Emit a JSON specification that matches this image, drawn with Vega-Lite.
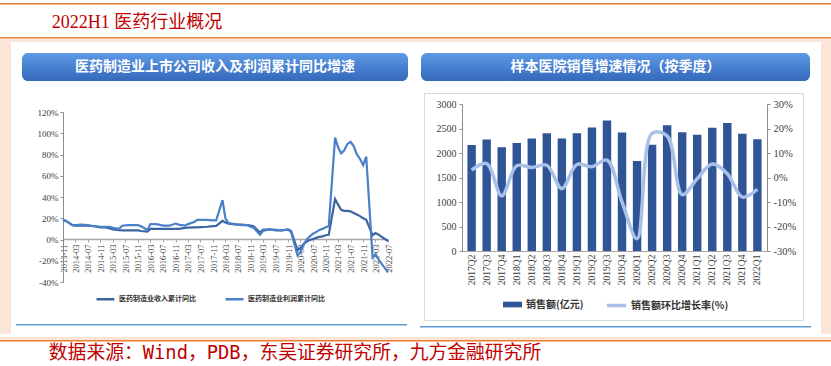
{
  "$schema": "https://vega.github.io/schema/vega-lite/v6.json",
  "padding": 0,
  "background": "white",
  "config": {"view": {"stroke": null}, "concat": {"spacing": 0}, "axis": {"grid": false}},
  "spacing": 0,
  "vconcat": [
    {"width": 831, "height": 3, "data": {"values": [{}]}, "mark": {"type": "text", "fontSize": 0}, "encoding": {"text": {"value": ""}}},
    {"width": 831, "height": 1.5, "data": {"values": [{}]}, "mark": {"type": "text", "fontSize": 0}, "encoding": {"text": {"value": ""}}, "view": {"fill": "#ED7D31"}},
    {"spacing": 0, "hconcat": [
      {"width": 37, "height": 32, "data": {"values": [{}]}, "mark": {"type": "text", "fontSize": 0}, "encoding": {"text": {"value": ""}}},
      {"width": 200, "height": 32, "data": {"values": [{"t": "2022H1 医药行业概况"}]}, "mark": {"type": "text", "font": "Liberation Serif, Noto Sans CJK SC", "fontSize": 18, "color": "#C00000", "dy": 2}, "encoding": {"text": {"field": "t"}}},
      {"width": 594, "height": 32, "data": {"values": [{}]}, "mark": {"type": "text", "fontSize": 0}, "encoding": {"text": {"value": ""}}}
    ]},
    {"width": 831, "height": 1.5, "data": {"values": [{}]}, "mark": {"type": "text", "fontSize": 0}, "encoding": {"text": {"value": ""}}, "view": {"fill": "#ED7D31"}},
    {"width": 831, "height": 3, "data": {"values": [{}]}, "mark": {"type": "text", "fontSize": 0}, "encoding": {"text": {"value": ""}}, "view": {"fill": "#FBE5D6"}},
    {"spacing": 0, "hconcat": [
      {"width": 11, "height": 292, "data": {"values": [{}]}, "mark": {"type": "text", "fontSize": 0}, "encoding": {"text": {"value": ""}}, "view": {"fill": "#FBE5D6"}},
      {"spacing": 0, "vconcat": [
        {"width": 404, "height": 11, "data": {"values": [{}]}, "mark": {"type": "text", "fontSize": 0}, "encoding": {"text": {"value": ""}}},
        {"spacing": 0, "hconcat": [
          {"width": 11, "height": 28, "data": {"values": [{}]}, "mark": {"type": "text", "fontSize": 0}, "encoding": {"text": {"value": ""}}},
          {"width": 386, "height": 28, "view": {"cornerRadius": 6, "fill": {"gradient": "linear", "x1": 0, "y1": 0, "x2": 0, "y2": 1, "stops": [{"offset": 0, "color": "#5E9AE6"}, {"offset": 1, "color": "#3468BC"}]}}, "data": {"values": [{"t": "医药制造业上市公司收入及利润累计同比增速"}]}, "mark": {"type": "text", "font": "Noto Sans CJK SC", "fontSize": 14, "fontWeight": "bold", "color": "white"}, "encoding": {"text": {"field": "t"}}},
          {"width": 7, "height": 28, "data": {"values": [{}]}, "mark": {"type": "text", "fontSize": 0}, "encoding": {"text": {"value": ""}}}
        ]},
        {
          "width": 404, "height": 243,
          "data": {"values": [
            {"d": "2013-11", "rev": 18.5, "profit": 18.5},
            {"d": "2013-12", "rev": 17.5, "profit": 17.5},
            {"d": "2014-02", "rev": 13.5, "profit": 13.5},
            {"d": "2014-03", "rev": 13, "profit": 13.5},
            {"d": "2014-05", "rev": 13.2, "profit": 14},
            {"d": "2014-07", "rev": 13, "profit": 13.5},
            {"d": "2014-09", "rev": 12.5, "profit": 12.5},
            {"d": "2014-11", "rev": 11.5, "profit": 12},
            {"d": "2014-12", "rev": 11.5, "profit": 12},
            {"d": "2015-02", "rev": 10.5, "profit": 12},
            {"d": "2015-03", "rev": 9.5, "profit": 11},
            {"d": "2015-05", "rev": 8.8, "profit": 10},
            {"d": "2015-06", "rev": 8.6, "profit": 13},
            {"d": "2015-08", "rev": 8.5, "profit": 13.5},
            {"d": "2015-11", "rev": 8.5, "profit": 13.5},
            {"d": "2015-12", "rev": 8, "profit": 12.5},
            {"d": "2016-02", "rev": 7.5, "profit": 9},
            {"d": "2016-03", "rev": 10, "profit": 14.5},
            {"d": "2016-05", "rev": 10, "profit": 14.5},
            {"d": "2016-07", "rev": 10, "profit": 13},
            {"d": "2016-09", "rev": 10, "profit": 13},
            {"d": "2016-11", "rev": 10, "profit": 15},
            {"d": "2016-12", "rev": 10, "profit": 14},
            {"d": "2017-02", "rev": 11, "profit": 13},
            {"d": "2017-03", "rev": 11.2, "profit": 14.5},
            {"d": "2017-05", "rev": 11.5, "profit": 16.5},
            {"d": "2017-06", "rev": 11.5, "profit": 18.5},
            {"d": "2017-09", "rev": 12, "profit": 18.5},
            {"d": "2017-11", "rev": 12.5, "profit": 18},
            {"d": "2017-12", "rev": 12.8, "profit": 18},
            {"d": "2018-02", "rev": 17.5, "profit": 37},
            {"d": "2018-03", "rev": 16, "profit": 20},
            {"d": "2018-04", "rev": 15, "profit": 15.5},
            {"d": "2018-06", "rev": 14.3, "profit": 14.5},
            {"d": "2018-08", "rev": 14, "profit": 13.5},
            {"d": "2018-10", "rev": 13.5, "profit": 13.5},
            {"d": "2018-11", "rev": 13, "profit": 12},
            {"d": "2018-12", "rev": 12.5, "profit": 11},
            {"d": "2019-02", "rev": 6.5, "profit": 4.5},
            {"d": "2019-03", "rev": 9, "profit": 8},
            {"d": "2019-05", "rev": 9.5, "profit": 9.5},
            {"d": "2019-07", "rev": 9, "profit": 8.5},
            {"d": "2019-09", "rev": 8.5, "profit": 8.5},
            {"d": "2019-11", "rev": 9.5, "profit": 9.5},
            {"d": "2019-12", "rev": 8, "profit": 7},
            {"d": "2020-02", "rev": -10, "profit": -15},
            {"d": "2020-03", "rev": -8, "profit": -12},
            {"d": "2020-04", "rev": -4, "profit": -5},
            {"d": "2020-05", "rev": -2, "profit": 0},
            {"d": "2020-06", "rev": -0.5, "profit": 3},
            {"d": "2020-07", "rev": 0.5, "profit": 5.5},
            {"d": "2020-08", "rev": 1.5, "profit": 7},
            {"d": "2020-09", "rev": 2.5, "profit": 9},
            {"d": "2020-10", "rev": 3, "profit": 10},
            {"d": "2020-11", "rev": 4, "profit": 11.5},
            {"d": "2020-12", "rev": 4.5, "profit": 12.5},
            {"d": "2021-02", "rev": 38, "profit": 96},
            {"d": "2021-03", "rev": 33, "profit": 87},
            {"d": "2021-04", "rev": 28, "profit": 81},
            {"d": "2021-05", "rev": 27, "profit": 84},
            {"d": "2021-06", "rev": 27, "profit": 90},
            {"d": "2021-07", "rev": 26.5, "profit": 92},
            {"d": "2021-08", "rev": 25, "profit": 88},
            {"d": "2021-09", "rev": 23.5, "profit": 80},
            {"d": "2021-10", "rev": 22, "profit": 76},
            {"d": "2021-11", "rev": 20, "profit": 70},
            {"d": "2021-12", "rev": 18.5, "profit": 78},
            {"d": "2022-02", "rev": 4, "profit": -17},
            {"d": "2022-03", "rev": 6, "profit": -14},
            {"d": "2022-04", "rev": 4.5, "profit": -19},
            {"d": "2022-05", "rev": 2.5, "profit": -23},
            {"d": "2022-06", "rev": 0.5, "profit": -27},
            {"d": "2022-07", "rev": -1.5, "profit": -31}
          ]},
          "transform": [{"fold": ["rev", "profit"], "as": ["series", "value"]}],
          "mark": {"type": "line", "strokeWidth": 2.2},
          "encoding": {
            "x": {"field": "d", "type": "temporal",
              "scale": {"type": "utc", "range": [52, 377], "domain": [{"year": 2013, "month": 11, "date": 1, "utc": true}, {"year": 2022, "month": 7, "date": 1, "utc": true}]},
              "axis": {"title": null, "orient": "bottom", "offset": -85, "labelExpr": "utcFormat(datum.value, '%Y-%m')", "labelAngle": 270, "labelOverlap": false, "labelFlush": false,
                "labelFont": "Liberation Serif", "labelFontSize": 8.5, "labelColor": "#404040", "labelPadding": 2,
                "domainColor": "#A6A6A6", "domainWidth": 1.5, "tickColor": "#A6A6A6", "tickSize": 3,
                "values": [
                  {"year": 2013, "month": 11, "date": 1, "utc": true}, {"year": 2014, "month": 3, "date": 1, "utc": true}, {"year": 2014, "month": 7, "date": 1, "utc": true},
                  {"year": 2014, "month": 11, "date": 1, "utc": true}, {"year": 2015, "month": 3, "date": 1, "utc": true}, {"year": 2015, "month": 7, "date": 1, "utc": true},
                  {"year": 2015, "month": 11, "date": 1, "utc": true}, {"year": 2016, "month": 3, "date": 1, "utc": true}, {"year": 2016, "month": 7, "date": 1, "utc": true},
                  {"year": 2016, "month": 11, "date": 1, "utc": true}, {"year": 2017, "month": 3, "date": 1, "utc": true}, {"year": 2017, "month": 7, "date": 1, "utc": true},
                  {"year": 2017, "month": 11, "date": 1, "utc": true}, {"year": 2018, "month": 3, "date": 1, "utc": true}, {"year": 2018, "month": 7, "date": 1, "utc": true},
                  {"year": 2018, "month": 11, "date": 1, "utc": true}, {"year": 2019, "month": 3, "date": 1, "utc": true}, {"year": 2019, "month": 7, "date": 1, "utc": true},
                  {"year": 2019, "month": 11, "date": 1, "utc": true}, {"year": 2020, "month": 3, "date": 1, "utc": true}, {"year": 2020, "month": 7, "date": 1, "utc": true},
                  {"year": 2020, "month": 11, "date": 1, "utc": true}, {"year": 2021, "month": 3, "date": 1, "utc": true}, {"year": 2021, "month": 7, "date": 1, "utc": true},
                  {"year": 2021, "month": 11, "date": 1, "utc": true}, {"year": 2022, "month": 3, "date": 1, "utc": true}, {"year": 2022, "month": 7, "date": 1, "utc": true}
                ]}},
            "y": {"field": "value", "type": "quantitative",
              "scale": {"domain": [-40, 120], "nice": false, "zero": false, "range": [201, 31]},
              "axis": {"title": null, "orient": "left", "offset": -52, "values": [-40, -20, 0, 20, 40, 60, 80, 100, 120], "labelExpr": "datum.value + '%'",
                "labelFont": "Liberation Serif", "labelFontSize": 9, "labelColor": "#404040", "labelPadding": 2,
                "domainColor": "#8C8C8C", "tickColor": "#8C8C8C", "tickSize": 3}},
            "stroke": {"field": "series", "type": "nominal",
              "scale": {"domain": ["rev", "profit"], "range": ["#3C64A0", "#4A80C8"]},
              "legend": {"title": null, "orient": "none", "legendX": 95, "legendY": 288.5, "columns": 2, "columnPadding": 24,
                "symbolType": "stroke", "symbolSize": 324, "symbolStrokeWidth": 2.5, "padding": 0,
                "labelExpr": "datum.value == 'rev' ? '医药制造业收入累计同比' : '医药制造业利润累计同比'",
                "labelFont": "Noto Sans CJK SC", "labelFontSize": 7, "labelFontWeight": "bold", "labelColor": "#333333", "labelOffset": 3}}
          }
        },
        {"spacing": 0, "hconcat": [
          {"width": 5, "height": 1.5, "data": {"values": [{}]}, "mark": {"type": "text", "fontSize": 0}, "encoding": {"text": {"value": ""}}},
          {"width": 391, "height": 1.5, "data": {"values": [{}]}, "mark": {"type": "text", "fontSize": 0}, "encoding": {"text": {"value": ""}}, "view": {"fill": "#5B9BD5"}},
          {"width": 8, "height": 1.5, "data": {"values": [{}]}, "mark": {"type": "text", "fontSize": 0}, "encoding": {"text": {"value": ""}}}
        ]},
        {"width": 404, "height": 8.5, "data": {"values": [{}]}, "mark": {"type": "text", "fontSize": 0}, "encoding": {"text": {"value": ""}}}
      ]},
      {"spacing": 0, "vconcat": [
        {"width": 404, "height": 11, "data": {"values": [{}]}, "mark": {"type": "text", "fontSize": 0}, "encoding": {"text": {"value": ""}}},
        {"spacing": 0, "hconcat": [
          {"width": 6, "height": 28, "data": {"values": [{}]}, "mark": {"type": "text", "fontSize": 0}, "encoding": {"text": {"value": ""}}},
          {"width": 389, "height": 28, "view": {"cornerRadius": 6, "fill": {"gradient": "linear", "x1": 0, "y1": 0, "x2": 0, "y2": 1, "stops": [{"offset": 0, "color": "#5E9AE6"}, {"offset": 1, "color": "#3468BC"}]}}, "data": {"values": [{"t": "样本医院销售增速情况（按季度）"}]}, "mark": {"type": "text", "font": "Noto Sans CJK SC", "fontSize": 14, "fontWeight": "bold", "color": "white"}, "encoding": {"text": {"field": "t"}}},
          {"width": 9, "height": 28, "data": {"values": [{}]}, "mark": {"type": "text", "fontSize": 0}, "encoding": {"text": {"value": ""}}}
        ]},
        {"width": 404, "height": 11, "data": {"values": [{}]}, "mark": {"type": "text", "fontSize": 0}, "encoding": {"text": {"value": ""}}},
        {"spacing": 0, "hconcat": [
          {"width": 8, "height": 227, "data": {"values": [{}]}, "mark": {"type": "text", "fontSize": 0}, "encoding": {"text": {"value": ""}}},
          {
            "width": 379, "height": 227,
            "view": {"fill": "white", "stroke": "#D9D9D9", "strokeWidth": 1},
            "data": {"values": [
              {"q": "2017Q2", "sales": 2165, "growth": 3.0},
              {"q": "2017Q3", "sales": 2274, "growth": 5.7},
              {"q": "2017Q4", "sales": 2118, "growth": -7.5},
              {"q": "2018Q1", "sales": 2206, "growth": 4.8},
              {"q": "2018Q2", "sales": 2294, "growth": 4.1},
              {"q": "2018Q3", "sales": 2403, "growth": 5.0},
              {"q": "2018Q4", "sales": 2294, "growth": -4.5},
              {"q": "2019Q1", "sales": 2403, "growth": 5.3},
              {"q": "2019Q2", "sales": 2518, "growth": 4.4},
              {"q": "2019Q3", "sales": 2661, "growth": 7.1},
              {"q": "2019Q4", "sales": 2416, "growth": -10},
              {"q": "2020Q1", "sales": 1837, "growth": -25},
              {"q": "2020Q2", "sales": 2170, "growth": 18},
              {"q": "2020Q3", "sales": 2565, "growth": 17},
              {"q": "2020Q4", "sales": 2422, "growth": -7},
              {"q": "2021Q1", "sales": 2374, "growth": -0.5},
              {"q": "2021Q2", "sales": 2517, "growth": 5.5},
              {"q": "2021Q3", "sales": 2612, "growth": 1.5},
              {"q": "2021Q4", "sales": 2395, "growth": -8},
              {"q": "2022Q1", "sales": 2279, "growth": -4.8}
            ]},
            "encoding": {
              "x": {"field": "q", "type": "ordinal", "sort": null,
                "scale": {"type": "band", "range": [38, 343], "paddingInner": 0.44, "paddingOuter": 0.36},
                "axis": {"title": null, "orient": "bottom", "offset": -69, "labelAngle": 270, "ticks": false, "labelPadding": 3,
                  "labelFont": "Liberation Serif", "labelFontSize": 9.5, "labelColor": "#404040",
                  "domainColor": "#A6A6A6", "domainWidth": 1}}
            },
            "layer": [
              {"mark": {"type": "bar"},
               "encoding": {
                 "y": {"field": "sales", "type": "quantitative",
                   "scale": {"domain": [0, 3000], "nice": false, "range": [158, 11]},
                   "axis": {"title": null, "orient": "left", "offset": -38, "values": [0, 500, 1000, 1500, 2000, 2500, 3000], "format": "d",
                     "labelFont": "Liberation Serif", "labelFontSize": 10, "labelColor": "#404040", "labelPadding": 3,
                     "domainColor": "#8C8C8C", "tickColor": "#8C8C8C", "tickSize": 3}},
                 "fill": {"datum": "销售额(亿元)", "scale": {"range": ["#2F5597"]},
                   "legend": {"title": null, "orient": "none", "legendX": 78, "legendY": 201, "padding": 0,
                     "symbolType": "M-1,-0.3H1V0.3H-1Z", "symbolSize": 361,
                     "labelFont": "Noto Sans CJK SC", "labelFontSize": 10, "labelFontWeight": "bold", "labelColor": "#333333", "labelOffset": 3}}
               }},
              {"mark": {"type": "line", "interpolate": "catmull-rom", "strokeWidth": 3.5},
               "encoding": {
                 "y": {"field": "growth", "type": "quantitative",
                   "scale": {"domain": [-30, 30], "nice": false, "zero": false, "range": [158, 11]},
                   "axis": {"title": null, "orient": "right", "offset": -36, "values": [-30, -20, -10, 0, 10, 20, 30], "labelExpr": "datum.value + '%'",
                     "labelFont": "Liberation Serif", "labelFontSize": 10.5, "labelColor": "#404040", "labelPadding": 3,
                     "domainColor": "#8C8C8C", "tickColor": "#8C8C8C", "tickSize": 3}},
                 "stroke": {"datum": "销售额环比增长率(%)", "scale": {"range": ["#A9C1E8"]},
                   "legend": {"title": null, "orient": "none", "legendX": 181, "legendY": 201, "padding": 0,
                     "symbolType": "stroke", "symbolSize": 361, "symbolStrokeWidth": 3.5,
                     "labelFont": "Noto Sans CJK SC", "labelFontSize": 10, "labelFontWeight": "bold", "labelColor": "#333333", "labelOffset": 3}}
               }}
            ],
            "resolve": {"scale": {"y": "independent", "fill": "independent", "stroke": "independent"}}
          },
          {"width": 17, "height": 227, "data": {"values": [{}]}, "mark": {"type": "text", "fontSize": 0}, "encoding": {"text": {"value": ""}}}
        ]},
        {"width": 404, "height": 5, "data": {"values": [{}]}, "mark": {"type": "text", "fontSize": 0}, "encoding": {"text": {"value": ""}}},
        {"spacing": 0, "hconcat": [
          {"width": 5, "height": 1.5, "data": {"values": [{}]}, "mark": {"type": "text", "fontSize": 0}, "encoding": {"text": {"value": ""}}},
          {"width": 391, "height": 1.5, "data": {"values": [{}]}, "mark": {"type": "text", "fontSize": 0}, "encoding": {"text": {"value": ""}}, "view": {"fill": "#5B9BD5"}},
          {"width": 8, "height": 1.5, "data": {"values": [{}]}, "mark": {"type": "text", "fontSize": 0}, "encoding": {"text": {"value": ""}}}
        ]},
        {"width": 404, "height": 8.5, "data": {"values": [{}]}, "mark": {"type": "text", "fontSize": 0}, "encoding": {"text": {"value": ""}}}
      ]},
      {"width": 12, "height": 292, "data": {"values": [{}]}, "mark": {"type": "text", "fontSize": 0}, "encoding": {"text": {"value": ""}}, "view": {"fill": "#FBE5D6"}}
    ]},
    {"width": 831, "height": 3, "data": {"values": [{}]}, "mark": {"type": "text", "fontSize": 0}, "encoding": {"text": {"value": ""}}, "view": {"fill": "#FBE5D6"}},
    {"width": 831, "height": 1.5, "data": {"values": [{}]}, "mark": {"type": "text", "fontSize": 0}, "encoding": {"text": {"value": ""}}, "view": {"fill": "#ED7D31"}},
    {"spacing": 0, "hconcat": [
      {"width": 45, "height": 25, "data": {"values": [{}]}, "mark": {"type": "text", "fontSize": 0}, "encoding": {"text": {"value": ""}}},
      {"width": 500, "height": 25, "data": {"values": [{"t": "数据来源：Wind，PDB，东吴证券研究所，九方金融研究所"}]}, "mark": {"type": "text", "font": "DejaVu Sans Mono, Noto Sans CJK SC", "fontSize": 18.8, "color": "#C00000", "dy": -2}, "encoding": {"text": {"field": "t"}}},
      {"width": 286, "height": 25, "data": {"values": [{}]}, "mark": {"type": "text", "fontSize": 0}, "encoding": {"text": {"value": ""}}}
    ]},
    {"width": 831, "height": 1.5, "data": {"values": [{}]}, "mark": {"type": "text", "fontSize": 0}, "encoding": {"text": {"value": ""}}, "view": {"fill": "#ED7D31"}},
    {"width": 831, "height": 2, "data": {"values": [{}]}, "mark": {"type": "text", "fontSize": 0}, "encoding": {"text": {"value": ""}}}
  ]
}
